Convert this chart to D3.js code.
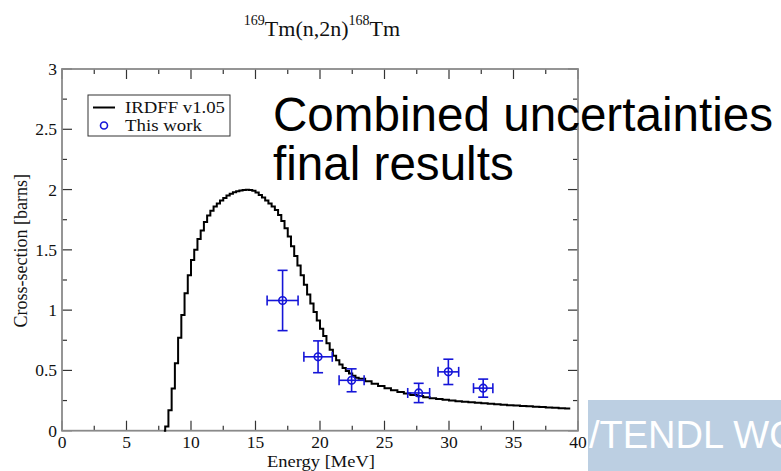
<!DOCTYPE html>
<html>
<head>
<meta charset="utf-8">
<script src="https://cdn.jsdelivr.net/npm/d3@7"></script>
<style>
  html, body { margin: 0; padding: 0; background: #fff; }
  svg { display: block; }
</style>
</head>
<body>
<svg id="chart" width="781" height="471"></svg>
<script>
// ---- Data ----
const curveEnergy = [7.9, 8.0, 8.25, 8.5, 8.75, 9.0, 9.25, 9.5, 9.75, 10.0, 10.25, 10.5, 10.75, 11.0, 11.25, 11.5, 11.75, 12.0, 12.25, 12.5, 12.75, 13.0, 13.25, 13.5, 13.75, 14.0, 14.25, 14.5, 14.75, 15.0, 15.25, 15.5, 15.75, 16.0, 16.25, 16.5, 16.75, 17.0, 17.25, 17.5, 17.75, 18.0, 18.25, 18.5, 18.75, 19.0, 19.25, 19.5, 19.75, 20.0, 20.25, 20.5, 20.75, 21.0, 21.25, 21.5, 21.75, 22.0, 22.25, 22.5, 22.75, 23.0, 23.5, 24.0, 24.5, 25.0, 25.5, 26.0, 26.5, 27.0, 27.5, 28.0, 28.5, 29.0, 29.5, 30.0, 30.5, 31.0, 31.5, 32.0, 32.5, 33.0, 33.5, 34.0, 34.5, 35.0, 35.5, 36.0, 36.5, 37.0, 37.5, 38.0, 38.5, 39.0, 39.4];
const curveXS = [0, 0.035, 0.17, 0.35, 0.56, 0.77, 0.96, 1.14, 1.29, 1.415, 1.50, 1.59, 1.66, 1.73, 1.785, 1.825, 1.86, 1.885, 1.91, 1.93, 1.95, 1.965, 1.977, 1.986, 1.992, 1.996, 1.998, 1.997, 1.99, 1.975, 1.955, 1.935, 1.91, 1.885, 1.86, 1.83, 1.79, 1.74, 1.68, 1.61, 1.53, 1.45, 1.37, 1.29, 1.21, 1.13, 1.055, 0.985, 0.915, 0.845, 0.785, 0.725, 0.672, 0.622, 0.585, 0.55, 0.52, 0.495, 0.475, 0.455, 0.44, 0.43, 0.41, 0.39, 0.37, 0.352, 0.336, 0.322, 0.308, 0.297, 0.287, 0.278, 0.270, 0.262, 0.256, 0.250, 0.245, 0.240, 0.236, 0.232, 0.228, 0.224, 0.220, 0.216, 0.212, 0.208, 0.205, 0.202, 0.199, 0.196, 0.193, 0.190, 0.187, 0.184, 0.184];

const pointEnergy = [17.1, 19.85, 22.45, 27.65, 29.95, 32.65];
const pointEnergyErr = [1.2, 1.1, 0.97, 0.85, 0.8, 0.75];
const pointXS = [1.08, 0.613, 0.418, 0.313, 0.488, 0.353];
const pointXSErr = [0.25, 0.132, 0.095, 0.08, 0.105, 0.075];

const xTicks = [0, 5, 10, 15, 20, 25, 30, 35, 40];
const xTickLabels = ["0", "5", "10", "15", "20", "25", "30", "35", "40"];
const xMinorTicks = [2.5, 7.5, 12.5, 17.5, 22.5, 27.5, 32.5, 37.5];
const yTicks = [0, 0.5, 1, 1.5, 2, 2.5, 3];
const yTickLabels = ["0", "0.5", "1", "1.5", "2", "2.5", "3"];
const yMinorTicks = [0.25, 0.75, 1.25, 1.75, 2.25, 2.75];

const legendLabels = ["IRDFF v1.05", "This work"];
const legendWidths = [100, 77];

// ---- Drawing ----
const svg = d3.select("#chart");
const serif = "'Liberation Serif', 'Times New Roman', serif";
const sans = "'Liberation Sans', Arial, sans-serif";

const x = d3.scaleLinear().domain([0, 40]).range([62, 578]);
const y = d3.scaleLinear().domain([0, 3]).range([430.7, 69]);

const frameColor = "#8a8a8a";
const tickColor = "#333";
const textColor = "#111";

// ticks (inward) on all four sides
const tk = svg.append("g");
function vtick(xv, len) {
  tk.append("line").attr("x1", x(xv)).attr("x2", x(xv)).attr("y1", y(0)).attr("y2", y(0) - len)
    .attr("stroke", tickColor).attr("stroke-width", 1.2);
  tk.append("line").attr("x1", x(xv)).attr("x2", x(xv)).attr("y1", y(3)).attr("y2", y(3) + len)
    .attr("stroke", tickColor).attr("stroke-width", 1.2);
}
function htick(yv, len) {
  tk.append("line").attr("y1", y(yv)).attr("y2", y(yv)).attr("x1", x(0)).attr("x2", x(0) + len)
    .attr("stroke", tickColor).attr("stroke-width", 1.2);
  tk.append("line").attr("y1", y(yv)).attr("y2", y(yv)).attr("x1", x(40)).attr("x2", x(40) - len)
    .attr("stroke", tickColor).attr("stroke-width", 1.2);
}
xTicks.forEach(v => vtick(v, 10));
xMinorTicks.forEach(v => vtick(v, 5));
yTicks.forEach(v => htick(v, 10));
yMinorTicks.forEach(v => htick(v, 5));

// frame
svg.append("rect")
  .attr("x", x(0)).attr("y", y(3))
  .attr("width", x(40) - x(0)).attr("height", y(0) - y(3))
  .attr("fill", "none").attr("stroke", frameColor).attr("stroke-width", 1.8);

// tick labels
svg.append("g").selectAll("text").data(xTicks).join("text")
  .attr("x", d => x(d)).attr("y", y(0) + 17.5)
  .attr("text-anchor", "middle")
  .attr("font-family", serif).attr("font-size", 17.5).attr("fill", textColor)
  .text((d, i) => xTickLabels[i]);

svg.append("g").selectAll("text").data(yTicks).join("text")
  .attr("x", x(0) - 5).attr("y", d => y(d) + 6)
  .attr("text-anchor", "end")
  .attr("font-family", serif).attr("font-size", 17.5).attr("fill", textColor)
  .text((d, i) => yTickLabels[i]);

// axis titles
svg.append("text")
  .attr("x", 321).attr("y", 467)
  .attr("text-anchor", "middle")
  .attr("font-family", serif).attr("font-size", 17).attr("fill", textColor)
  .attr("textLength", 108).attr("lengthAdjust", "spacingAndGlyphs")
  .text("Energy [MeV]");

svg.append("text")
  .attr("transform", `translate(27, ${y(1.5) + 1}) rotate(-90)`)
  .attr("text-anchor", "middle")
  .attr("font-family", serif).attr("font-size", 18).attr("fill", textColor)
  .text("Cross-section [barns]");

// title with superscripts
const title = svg.append("text")
  .attr("x", 322).attr("y", 36)
  .attr("text-anchor", "middle")
  .attr("font-family", serif).attr("font-size", 22).attr("fill", textColor);
title.append("tspan").attr("font-size", 14).attr("dy", -11).text("169");
title.append("tspan").attr("dy", 11).text("Tm(n,2n)");
title.append("tspan").attr("font-size", 14).attr("dy", -11).text("168");
title.append("tspan").attr("dy", 11).text("Tm");

// step curve
const pts = curveEnergy.map((e, i) => [e, curveXS[i]]);
svg.append("path")
  .attr("d", d3.line().x(d => x(d[0])).y(d => y(d[1])).curve(d3.curveStepAfter)(pts))
  .attr("fill", "none").attr("stroke", "#000").attr("stroke-width", 2);

// data points with error bars
const blue = "#1515d8";
const pg = svg.append("g").attr("stroke", blue).attr("stroke-width", 1.6).attr("fill", "none");
pointEnergy.forEach((e, i) => {
  const cx = x(e), cy = y(pointXS[i]);
  const x0 = x(e - pointEnergyErr[i]), x1 = x(e + pointEnergyErr[i]);
  const y0 = y(pointXS[i] - pointXSErr[i]), y1 = y(pointXS[i] + pointXSErr[i]);
  pg.append("line").attr("x1", x0).attr("x2", x1).attr("y1", cy).attr("y2", cy);
  pg.append("line").attr("x1", cx).attr("x2", cx).attr("y1", y0).attr("y2", y1);
  pg.append("line").attr("x1", x0).attr("x2", x0).attr("y1", cy - 5).attr("y2", cy + 5);
  pg.append("line").attr("x1", x1).attr("x2", x1).attr("y1", cy - 5).attr("y2", cy + 5);
  pg.append("line").attr("x1", cx - 5).attr("x2", cx + 5).attr("y1", y0).attr("y2", y0);
  pg.append("line").attr("x1", cx - 5).attr("x2", cx + 5).attr("y1", y1).attr("y2", y1);
  pg.append("circle").attr("cx", cx).attr("cy", cy).attr("r", 3.8);
});

// legend
const lg = svg.append("g");
lg.append("rect").attr("x", 88).attr("y", 95).attr("width", 142).attr("height", 41)
  .attr("fill", "#fff").attr("stroke", "#333").attr("stroke-width", 1);
lg.append("line").attr("x1", 93).attr("x2", 115).attr("y1", 107.5).attr("y2", 107.5)
  .attr("stroke", "#000").attr("stroke-width", 2);
lg.append("circle").attr("cx", 104).attr("cy", 125.5).attr("r", 3.5)
  .attr("fill", "none").attr("stroke", blue).attr("stroke-width", 1.6);
lg.selectAll("text").data(legendLabels).join("text")
  .attr("x", 125).attr("y", (d, i) => 113 + i * 18)
  .attr("font-family", serif).attr("font-size", 16).attr("fill", textColor)
  .attr("textLength", (d, i) => legendWidths[i]).attr("lengthAdjust", "spacingAndGlyphs")
  .text(d => d);

// slide overlay text
svg.append("text").attr("x", 273).attr("y", 131)
  .attr("font-family", sans).attr("font-size", 47.6).attr("fill", "#000")
  .text("Combined uncertainties");
svg.append("text").attr("x", 273).attr("y", 180)
  .attr("font-family", sans).attr("font-size", 47.6).attr("fill", "#000")
  .text("final results");

// bottom-right banner (text runs past the slide edge, as in the reference)
svg.append("rect").attr("x", 588).attr("y", 400).attr("width", 193).attr("height", 71)
  .attr("fill", "#bccfe2");
svg.append("text").attr("x", 589).attr("y", 448)
  .attr("font-family", sans).attr("font-size", 38).attr("fill", "#fff")
  .text("/TENDL WO");
</script>
</body>
</html>
